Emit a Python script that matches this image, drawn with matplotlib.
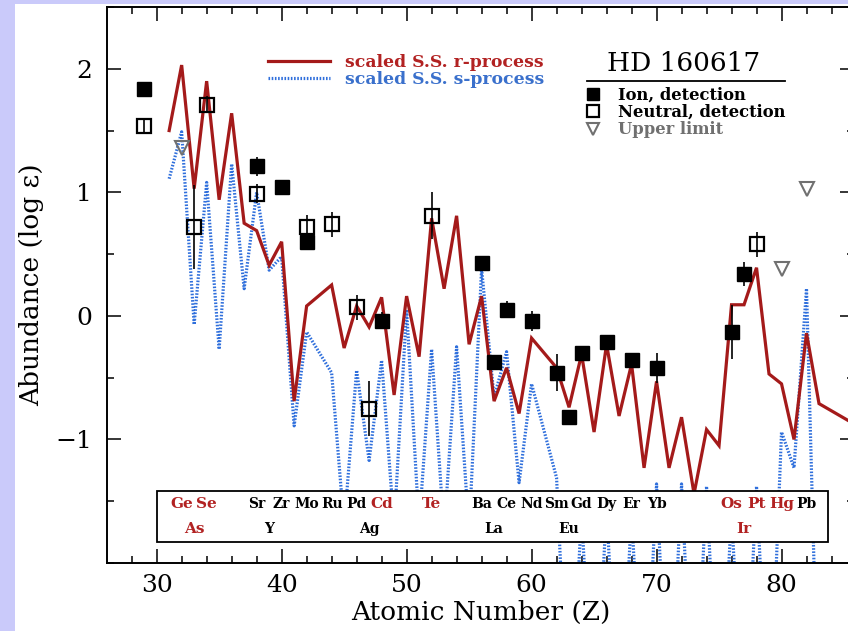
import matplotlib
matplotlib.use('Agg')
import matplotlib.pyplot as plt
from matplotlib.lines import Line2D
from matplotlib.patches import Rectangle
from matplotlib.ticker import MultipleLocator, FixedLocator

# ---------------- data ----------------
# scaled Solar-System r-process pattern
r_z = [31, 32, 33, 34, 35, 36, 37, 38, 39, 40, 41, 42, 44, 45, 46, 47, 48, 49, 50,
       51, 52, 53, 54, 55, 56, 57, 58, 59, 60, 62, 63, 64, 65, 66, 67, 68, 69, 70,
       71, 72, 73, 74, 75, 76, 77, 78, 79, 80, 81, 82, 83, 90]
r_val = [1.50, 2.03, 1.03, 1.90, 0.94, 1.64, 0.75, 0.69, 0.41, 0.60, -0.69, 0.08,
         0.25, -0.26, 0.08, -0.09, 0.15, -0.64, 0.16, -0.33, 0.79, 0.22, 0.81, -0.23,
         0.16, -0.69, -0.42, -0.79, -0.18, -0.42, -0.74, -0.31, -0.94, -0.23, -0.81,
         -0.39, -1.23, -0.53, -1.23, -0.82, -1.44, -0.92, -1.05, 0.09, 0.09, 0.39,
         -0.47, -0.55, -1.00, -0.14, -0.71, -1.12]

# scaled Solar-System s-process pattern
s_z = [31, 32, 33, 34, 35, 36, 37, 38, 39, 40, 41, 42, 44, 45, 46, 47, 48, 49, 50,
       51, 52, 53, 54, 55, 56, 57, 58, 59, 60, 62, 63, 64, 65, 66, 67, 68, 69, 70,
       71, 72, 73, 74, 75, 76, 77, 78, 79, 80, 81, 82, 83]
s_val = [1.11, 1.49, -0.07, 1.08, -0.27, 1.23, 0.22, 1.00, 0.37, 0.48, -0.89, -0.13,
         -0.46, -1.70, -0.44, -1.17, -0.36, -1.70, 0.05, -1.70, -0.27, -1.75, -0.25,
         -1.75, 0.38, -0.66, -0.29, -1.35, -0.55, -1.31, -3.5, -1.60, -3.5, -1.55,
         -3.5, -1.60, -3.5, -1.36, -3.5, -1.36, -3.5, -1.38, -3.5, -1.60, -3.5, -1.38,
         -3.5, -0.94, -1.23, 0.22, -3.5]

# HD 160617 abundances
ion_z = [29, 38, 40, 42, 48, 56, 57, 58, 60, 62, 63, 64, 66, 68, 70, 76, 77]
ion_val = [1.84, 1.21, 1.04, 0.60, -0.04, 0.43, -0.37, 0.05, -0.04, -0.46, -0.82,
           -0.30, -0.21, -0.36, -0.42, -0.13, 0.34]
ion_err = [0.02, 0.08, 0.05, 0.07, 0.07, 0.04, 0.04, 0.07, 0.08, 0.15, 0.03, 0.04,
           0.04, 0.05, 0.12, 0.22, 0.10]

neu_z = [29, 33, 34, 38, 42, 44, 46, 47, 52, 78]
neu_val = [1.54, 0.72, 1.71, 0.99, 0.72, 0.74, 0.07, -0.75, 0.81, 0.58]
neu_err = [0.06, 0.34, 0.07, 0.08, 0.10, 0.10, 0.10, 0.22, 0.19, 0.10]

ul_z = [32, 80, 82]
ul_val = [1.36, 0.38, 1.03]

row1_sym = ['Ge', 'Se', 'Sr', 'Zr', 'Mo', 'Ru', 'Pd', 'Cd', 'Te', 'Ba', 'Ce', 'Nd',
            'Sm', 'Gd', 'Dy', 'Er', 'Yb', 'Os', 'Pt', 'Hg', 'Pb']
row1_z = [32, 34, 38, 40, 42, 44, 46, 48, 52, 56, 58, 60, 62, 64, 66, 68, 70, 76, 78,
          80, 82]
row2_sym = ['As', 'Y', 'Ag', 'La', 'Eu', 'Ir']
row2_z = [33, 39, 47, 57, 63, 77]
red_syms = ['Ge', 'Se', 'As', 'Cd', 'Te', 'Os', 'Pt', 'Hg', 'Ir']

x_ticks = [30, 40, 50, 60, 70, 80, 90]
y_ticks = [-1, 0, 1, 2]

# ---------------- styles ----------------
RED = '#a41a1a'
RED_TXT = '#b22222'
BLUE = '#2f6fdc'
BLUE_TXT = '#3a70cc'
GRAY = '#707070'
LAV = '#cacafa'
SERIF = 'DejaVu Serif'

fig = plt.figure(figsize=(8.48, 6.31), dpi=100, facecolor=LAV)
# white page region (lavender frame on left / top)
fig.patches.append(Rectangle((15 / 848, 0), 1 - 15 / 848, 1 - 4 / 631,
                             transform=fig.transFigure, facecolor='white',
                             edgecolor='none', zorder=-10))

ax = fig.add_axes([107.3 / 848, 1 - 563 / 631, (854 - 107.3) / 848, (563 - 7) / 631])
ax.set_zorder(1)
ax.set_facecolor('white')
ax.set_xlim(26.05, 85.8)
ax.set_ylim(-2.0, 2.5)

lr, = ax.plot(r_z, r_val, color=RED, lw=2.3, solid_joinstyle='miter', zorder=3,
              label='scaled S.S. r-process')
ls, = ax.plot(s_z, s_val, color=BLUE, lw=2.3, linestyle=(0, (0.5, 0.5)), zorder=2,
              label='scaled S.S. s-process')

# element label box
bx0 = min(row1_z) - 2.0
bx1 = max(row1_z) + 1.7
box = Rectangle((bx0, -1.83), bx1 - bx0, 0.41, facecolor='white', edgecolor='black',
                lw=1.3, zorder=5)
ax.add_patch(box)
for sym, z in zip(row1_sym, row1_z):
    red = sym in red_syms
    ax.text(z, -1.525, sym, ha='center', va='center', family=SERIF, weight='bold',
            fontsize=11 if red else 10, color=RED_TXT if red else 'black', zorder=6)
for sym, z in zip(row2_sym, row2_z):
    red = sym in red_syms
    ax.text(z, -1.725, sym, ha='center', va='center', family=SERIF, weight='bold',
            fontsize=11 if red else 10, color=RED_TXT if red else 'black', zorder=6)

# observations
ax.errorbar(ion_z, ion_val, yerr=ion_err, fmt='s', color='black', ms=10.5,
            ecolor='black', elinewidth=1.2, capsize=0, zorder=7)
ax.errorbar(neu_z, neu_val, yerr=neu_err, fmt='s', mfc='none', mec='black', mew=1.6,
            ms=9.5, ecolor='black', elinewidth=1.2, capsize=0, zorder=7)
ax.plot(ul_z, ul_val, linestyle='none', marker='v', mfc='none', mec=GRAY, mew=1.5,
        ms=10, zorder=7)

# axes styling
for sp in ax.spines.values():
    sp.set_linewidth(1.4)
ax.xaxis.set_major_locator(FixedLocator(x_ticks))
ax.xaxis.set_minor_locator(MultipleLocator(2))
ax.yaxis.set_major_locator(FixedLocator(y_ticks))
ax.yaxis.set_minor_locator(MultipleLocator(0.5))
ax.tick_params(which='both', direction='in', top=True, right=True, width=1.1)
ax.tick_params(which='major', length=10)
ax.tick_params(which='minor', length=5)
ax.tick_params(axis='x', which='major', pad=8, labelsize=18)
ax.tick_params(axis='y', which='major', pad=11, labelsize=18)
for lab in ax.get_xticklabels() + ax.get_yticklabels():
    lab.set_family(SERIF)

ax.set_xlabel('Atomic Number (Z)', family=SERIF, fontsize=19, labelpad=2)
ax.set_ylabel('Abundance (log \u03b5)', family=SERIF, fontsize=19, labelpad=8)

# legend for the scaled patterns
leg1 = ax.legend(handles=[lr, ls], loc='upper left', bbox_to_anchor=(0.2152, 0.9147),
                 frameon=False, borderpad=0, borderaxespad=0, handlelength=3.6,
                 handletextpad=0.87, labelspacing=0.0,
                 prop=dict(family=SERIF, weight='bold', size=12.4))
leg1.get_texts()[0].set_color(RED_TXT)
leg1.get_texts()[1].set_color(BLUE_TXT)
ax.add_artist(leg1)

# star name and detection key
ax.text(0.7715, 0.899, 'HD 160617', transform=ax.transAxes, ha='center', va='center',
        family=SERIF, fontsize=19)
ax.plot([0.642, 0.907], [0.867, 0.867], transform=ax.transAxes, color='black', lw=1.3,
        clip_on=False)
h_ion = Line2D([], [], linestyle='none', marker='s', color='black', ms=9)
h_neu = Line2D([], [], linestyle='none', marker='s', mfc='none', mec='black', mew=1.6, ms=8.5)
h_ul = Line2D([], [], linestyle='none', marker='v', mfc='none', mec=GRAY, mew=1.5, ms=9)
leg2 = ax.legend(handles=[h_ion, h_neu, h_ul],
                 labels=['Ion, detection', 'Neutral, detection', 'Upper limit'],
                 loc='upper left', bbox_to_anchor=(0.640, 0.857), frameon=False,
                 borderpad=0, borderaxespad=0, handlelength=0.93, handletextpad=1.05,
                 labelspacing=0.03, prop=dict(family=SERIF, weight='bold', size=11.8))
leg2.get_texts()[2].set_color(GRAY)

fig.savefig('out.png', dpi=100, facecolor=fig.get_facecolor())
